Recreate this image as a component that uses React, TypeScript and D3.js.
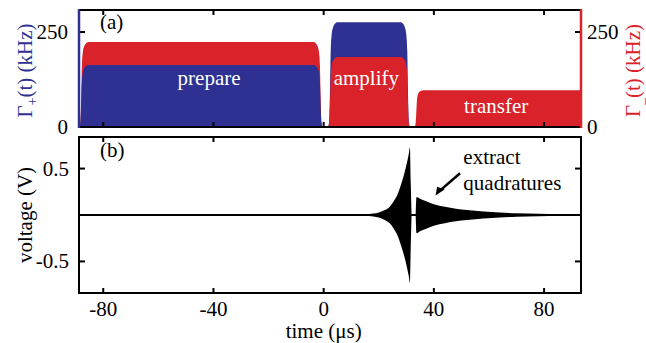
import React from "react";
import * as d3 from "d3";

// pulse sequence (µs, kHz)
const pulseNames = ["prepare", "amplify", "transfer"];
const pulseStart = [-87.6, 2.7, 34.0];
const pulseEnd = [-1.5, 30.2, 140];
const gammaPlus = [163, 276, 0];
const gammaMinus = [224, 184, 97];
// label positions (µs, kHz)
const labelT = [-41.6, 15.5, 62.6];
const labelK = [110, 110, 37];
// edge shape: offset (µs) from nominal edge, fraction of full height
const edgeOffset = [-1.1, -0.7, -0.4, -0.15, 0.2, 0.7, 1.4, 2.2];
const edgeFrac = [0, 0.06, 0.35, 0.72, 0.88, 0.95, 0.985, 1];

// measured voltage envelope (µs, V)
const growT = [-88.8, 12, 15, 18, 20, 22, 24, 25.5, 26.8, 28, 29.2, 30.2, 30.9, 31.3, 31.6, 31.9];
const growA = [0.004, 0.004, 0.008, 0.015, 0.027, 0.05, 0.09, 0.15, 0.22, 0.32, 0.44, 0.56, 0.66, 0.73, 0.35, 0.01];
const decayT = [33.4, 33.7, 35, 37, 40, 44, 48, 52, 58, 64, 70, 78, 86, 93.4];
const decayA = [0.01, 0.195, 0.175, 0.15, 0.115, 0.088, 0.068, 0.054, 0.038, 0.027, 0.019, 0.013, 0.009, 0.006];

const xTicks = [-80, -40, 0, 40, 80];
const topTicks = [0, 250];
const vTicks = [0.5, -0.5];

const BLUE = "#2e3192";
const RED = "#d92229";
const FONT = "'Liberation Serif', 'Times New Roman', serif";

const W = 646, H = 343;
const L = 79, R = 581;
const aTop = 10, aBot = 127;
const bTop = 137, bBot = 293;

export default function App() {
  const x = d3.scaleLinear().domain([-88.8, 93.4]).range([L, R]);
  const yA = d3.scaleLinear().domain([0, 308]).range([aBot, aTop]);
  const yB = d3.scaleLinear().domain([-0.84, 0.84]).range([bBot, bTop]);

  const pulsePoints = (i: number, h: number) => {
    const rise = edgeOffset.map((o, k) => [pulseStart[i] + o, h * edgeFrac[k]]);
    const fall = edgeOffset.map((o, k) => [pulseEnd[i] - o, h * edgeFrac[k]]).reverse();
    return rise.concat(fall) as [number, number][];
  };
  const pulseArea = d3.area<[number, number]>()
    .x(d => x(d[0]))
    .y0(yA(0))
    .y1(d => yA(d[1]))
    .curve(d3.curveMonotoneX);

  // taller rate drawn behind the shorter one in each stage
  const layers: { d: string; fill: string }[] = [];
  pulseNames.forEach((_, i) => {
    const pair = [
      { h: gammaPlus[i], fill: BLUE },
      { h: gammaMinus[i], fill: RED },
    ].filter(p => p.h > 0).sort((a, b) => b.h - a.h);
    pair.forEach(p => layers.push({ d: pulseArea(pulsePoints(i, p.h)) || "", fill: p.fill }));
  });

  const env = d3.area<number>()
    .x(d => x(d[0]))
    .y0(d => yB(-d[1]))
    .y1(d => yB(d[1]))
    .curve(d3.curveMonotoneX);
  const growD = env(growT.map((t, i) => [t, growA[i]]) as any) || "";
  const decayD = env(decayT.map((t, i) => [t, decayA[i]]) as any) || "";

  const tickLen = 5;
  const fs = 21;
  const T = (p: any) => <text fontFamily={FONT} {...p} />;

  return (
    <svg width={W} height={H} style={{ position: "absolute", left: 0, top: 0, background: "#fff" }}>
      <defs>
        <clipPath id="clipA"><rect x={L} y={aTop} width={R - L} height={aBot - aTop} /></clipPath>
        <clipPath id="clipB"><rect x={L} y={bTop} width={R - L} height={bBot - bTop} /></clipPath>
      </defs>

      {/* panel (a) */}
      <g clipPath="url(#clipA)">
        {layers.map((l, i) => <path key={i} d={l.d} fill={l.fill} />)}
      </g>
      {xTicks.map(t => (
        <g key={"ta" + t} stroke="#000" strokeWidth={2}>
          <line x1={x(t)} x2={x(t)} y1={aTop} y2={aTop + tickLen} />
          <line x1={x(t)} x2={x(t)} y1={aBot} y2={aBot - tickLen} />
        </g>
      ))}
      <line x1={L + 1} x2={L + tickLen + 1} y1={yA(250)} y2={yA(250)} stroke="#000" strokeWidth={2} />
      <line x1={R - 1} x2={R - tickLen - 1} y1={yA(250)} y2={yA(250)} stroke="#000" strokeWidth={2} />
      <line x1={L} x2={R} y1={aTop} y2={aTop} stroke="#000" strokeWidth={2} />
      <line x1={L} x2={R} y1={aBot} y2={aBot} stroke="#000" strokeWidth={2} />
      <line x1={L} x2={L} y1={aTop - 1} y2={aBot + 1} stroke={BLUE} strokeWidth={2.5} />
      <line x1={R} x2={R} y1={aTop - 1} y2={aBot + 1} stroke={RED} strokeWidth={2.5} />
      {topTicks.map(v => (
        <g key={"yl" + v}>
          <T x={L - 11} y={yA(v) + 7} textAnchor="end" fontSize={fs}>{v}</T>
          <T x={R + 6} y={yA(v) + 7} textAnchor="start" fontSize={fs}>{v}</T>
        </g>
      ))}
      <T x={x(-81.2)} y={yA(258)} fontSize={fs}>(a)</T>
      {pulseNames.map((n, i) => (
        <T key={n} x={x(labelT[i])} y={yA(labelK[i])} fill="#fff" fontSize={fs} textAnchor="middle">{n}</T>
      ))}
      <T transform={`translate(32,${(aTop + aBot) / 2 + 2}) rotate(-90)`} textAnchor="middle" fill={BLUE} fontSize={fs}>
        Γ<tspan fontSize={14} dy={5}>+</tspan><tspan dy={-5}>(t) (kHz)</tspan>
      </T>
      <T transform={`translate(640,${(aTop + aBot) / 2 + 2}) rotate(-90)`} textAnchor="middle" fill={RED} fontSize={fs}>
        Γ<tspan fontSize={14} dy={4}>_</tspan><tspan dy={-4}>(t) (kHz)</tspan>
      </T>

      {/* panel (b) */}
      <g clipPath="url(#clipB)">
        <line x1={L} x2={R} y1={yB(0)} y2={yB(0)} stroke="#000" strokeWidth={2} />
        <path d={growD} fill="#000" />
        <path d={decayD} fill="#000" />
      </g>
      {xTicks.map(t => (
        <g key={"tb" + t}>
          <line x1={x(t)} x2={x(t)} y1={bTop} y2={bTop + tickLen} stroke="#000" strokeWidth={2} />
          <line x1={x(t)} x2={x(t)} y1={bBot} y2={bBot - tickLen} stroke="#000" strokeWidth={2} />
          <T x={x(t)} y={bBot + 23} textAnchor="middle" fontSize={fs}>{t}</T>
        </g>
      ))}
      {vTicks.map(v => (
        <g key={"v" + v}>
          <line x1={L} x2={L + tickLen + 1} y1={yB(v)} y2={yB(v)} stroke="#000" strokeWidth={2} />
          <line x1={R} x2={R - tickLen - 1} y1={yB(v)} y2={yB(v)} stroke="#000" strokeWidth={2} />
          <T x={L - 10} y={yB(v) + 7} textAnchor="end" fontSize={fs}>{v}</T>
        </g>
      ))}
      <rect x={L} y={bTop} width={R - L} height={bBot - bTop} fill="none" stroke="#000" strokeWidth={2} />
      <T x={x(-81.2)} y={yB(0.62)} fontSize={fs}>(b)</T>
      <T transform={`translate(32,${(bTop + bBot) / 2}) rotate(-90)`} textAnchor="middle" fontSize={fs}>voltage (V)</T>
      <T x={x(0)} y={H - 5} textAnchor="middle" fontSize={fs}>time (μs)</T>

      <line x1={x(49.5)} y1={yB(0.45)} x2={x(42.3)} y2={yB(0.265)} stroke="#000" strokeWidth={2.5} />
      <path
        d={`M${x(40.6)},${yB(0.21)} L${x(43.9)},${yB(0.275)} L${x(41.2)},${yB(0.305)} Z`}
        fill="#000" />
      <T x={x(50.7)} y={yB(0.55)} fontSize={fs}>extract</T>
      <T x={x(50.7)} y={yB(0.27)} fontSize={fs}>quadratures</T>
    </svg>
  );
}
